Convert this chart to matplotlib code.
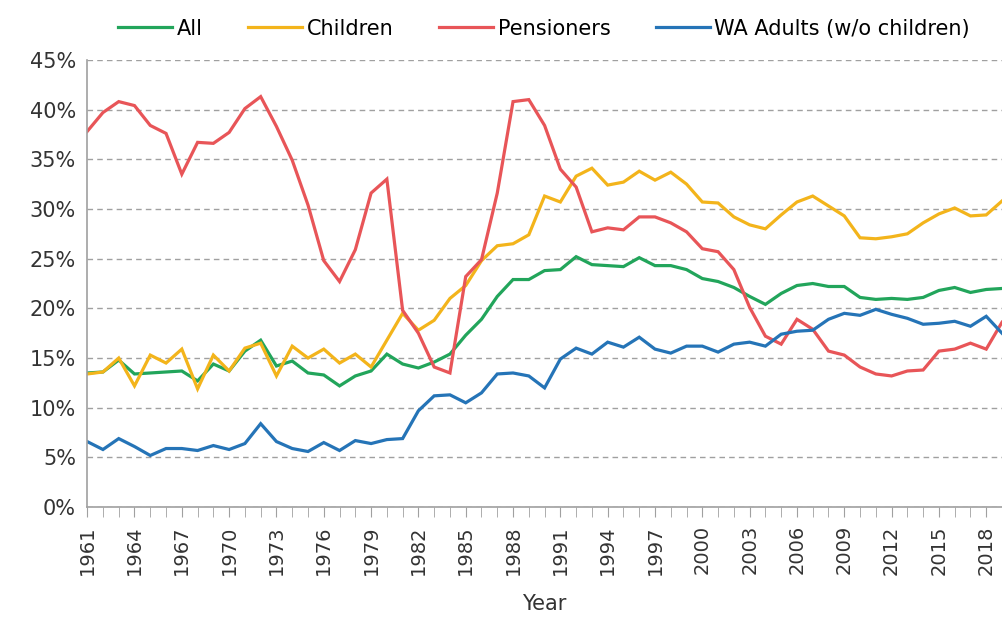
import matplotlib
matplotlib.use('Agg')
import matplotlib.pyplot as plt
from matplotlib.ticker import MultipleLocator, FuncFormatter
import numpy as np

years = list(range(1961, 2020))

all_people = [13.5, 13.6, 14.8, 13.4, 13.5, 13.6, 13.7, 12.7, 14.4, 13.7,
              15.7, 16.8, 14.2, 14.7, 13.5, 13.3, 12.2, 13.2, 13.7, 15.4,
              14.4, 14.0, 14.6, 15.4, 17.3, 18.9, 21.2, 22.9, 22.9, 23.8,
              23.9, 25.2, 24.4, 24.3, 24.2, 25.1, 24.3, 24.3, 23.9, 23.0,
              22.7, 22.1, 21.2, 20.4, 21.5, 22.3, 22.5, 22.2, 22.2, 21.1,
              20.9, 21.0, 20.9, 21.1, 21.8, 22.1, 21.6, 21.9, 22.0]

children = [13.4, 13.6, 15.0, 12.2, 15.3, 14.5, 15.9, 11.9, 15.3, 13.7,
            16.0, 16.5, 13.2, 16.2, 15.0, 15.9, 14.5, 15.4, 14.1, 16.8,
            19.5, 17.8, 18.8, 21.0, 22.3, 24.8, 26.3, 26.5, 27.4, 31.3,
            30.7, 33.3, 34.1, 32.4, 32.7, 33.8, 32.9, 33.7, 32.5, 30.7,
            30.6, 29.2, 28.4, 28.0, 29.4, 30.7, 31.3, 30.3, 29.3, 27.1,
            27.0, 27.2, 27.5, 28.6, 29.5, 30.1, 29.3, 29.4, 30.8]

pensioners = [37.8, 39.7, 40.8, 40.4, 38.4, 37.6, 33.5, 36.7, 36.6, 37.7,
              40.1, 41.3, 38.3, 34.9, 30.4, 24.8, 22.7, 25.9, 31.6, 33.0,
              19.8, 17.5, 14.1, 13.5, 23.2, 24.9, 31.6, 40.8, 41.0, 38.4,
              34.0, 32.2, 27.7, 28.1, 27.9, 29.2, 29.2, 28.6, 27.7, 26.0,
              25.7, 23.9, 20.1, 17.2, 16.4, 18.9, 17.9, 15.7, 15.3, 14.1,
              13.4, 13.2, 13.7, 13.8, 15.7, 15.9, 16.5, 15.9, 18.6]

wa_adults = [6.6, 5.8, 6.9, 6.1, 5.2, 5.9, 5.9, 5.7, 6.2, 5.8,
             6.4, 8.4, 6.6, 5.9, 5.6, 6.5, 5.7, 6.7, 6.4, 6.8,
             6.9, 9.7, 11.2, 11.3, 10.5, 11.5, 13.4, 13.5, 13.2, 12.0,
             14.9, 16.0, 15.4, 16.6, 16.1, 17.1, 15.9, 15.5, 16.2, 16.2,
             15.6, 16.4, 16.6, 16.2, 17.4, 17.7, 17.8, 18.9, 19.5, 19.3,
             19.9, 19.4, 19.0, 18.4, 18.5, 18.7, 18.2, 19.2, 17.5]

series = [
    ('All', all_people, '#22a55b'),
    ('Children', children, '#f3b41b'),
    ('Pensioners', pensioners, '#e85558'),
    ('WA Adults (w/o children)', wa_adults, '#2574b7'),
]

narrow = ['Liberation Sans Narrow', 'DejaVu Sans']

fig = plt.figure(figsize=(10.02, 6.17), dpi=100)
ax = fig.add_axes([0.087, 0.178, 0.913, 0.725])

for name, vals, col in series:
    ax.plot(years, vals, color=col, lw=2.3, label=name, solid_joinstyle='miter')

ax.set_xlim(1961, 2018.56)
ax.set_ylim(0, 45)

ax.yaxis.set_major_locator(MultipleLocator(5))
ax.yaxis.set_major_formatter(FuncFormatter(lambda v, p: '%d%%' % v))
ax.grid(axis='y', color='#a0a0a0', ls=(0, (4, 3)), lw=1)
ax.set_axisbelow(True)

ax.set_xticks(years[::3])
ax.set_xticks(years, minor=True)
ax.tick_params(axis='x', which='both', length=7, color='#a0a0a0', direction='out',
               labelrotation=90, labelsize=14, pad=6)
ax.tick_params(axis='y', length=0, labelsize=15, pad=8)
for lab in ax.get_yticklabels():
    lab.set_family(narrow)
    lab.set_color('#333333')
for lab in ax.get_xticklabels():
    lab.set_color('#333333')

for s in ['top', 'right']:
    ax.spines[s].set_visible(False)
for s in ['left', 'bottom']:
    ax.spines[s].set_color('#a0a0a0')
    ax.spines[s].set_linewidth(1.2)

ax.set_xlabel('Year', fontsize=15, family=narrow, color='#333333', labelpad=14)

fig.legend(loc='upper center', bbox_to_anchor=(0.543, 1.0), ncol=4, frameon=False,
           prop={'family': narrow, 'size': 15}, handlelength=2.6, columnspacing=2.2,
           handletextpad=0.2)

fig.savefig('out.png', dpi=100)
